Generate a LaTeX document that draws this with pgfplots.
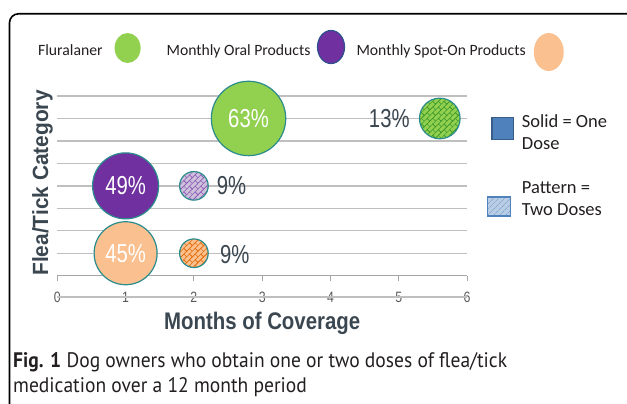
\documentclass[border=0pt]{standalone}
\usepackage{fontspec}
\setmainfont{Carlito}
\newfontfamily\numfont[FakeStretch=0.78]{Liberation Sans}
\newfontfamily\tickfont[FakeStretch=0.82]{Liberation Sans}
\newfontfamily\xlabfont[FakeStretch=0.85]{Liberation Sans}
\newfontfamily\ylabfont[FakeStretch=0.95]{Liberation Sans}
\newfontfamily\capfont[FakeStretch=0.93]{PT Sans}
\usepackage{pgfplots}
\pgfplotsset{compat=1.18}
\usetikzlibrary{patterns,patterns.meta}

\definecolor{fluGreen}{HTML}{92D050}
\definecolor{fluGreenDark}{HTML}{3F9A2A}
\definecolor{oralPurple}{HTML}{7030A0}
\definecolor{lavender}{HTML}{CCC0DA}
\definecolor{lavPat}{HTML}{8E5CB8}
\definecolor{peach}{HTML}{FAC090}
\definecolor{peachPat}{HTML}{E46C0A}
\definecolor{edgeTeal}{HTML}{2A8C8C}
\definecolor{legEdge}{HTML}{2F4F8F}
\definecolor{oneBlue}{HTML}{4F81BD}
\definecolor{oneBlueDark}{HTML}{385D8A}
\definecolor{twoBlue}{HTML}{B9CDE5}
\definecolor{twoBluePat}{HTML}{6F96C8}
\definecolor{gridgray}{HTML}{BFBFBF}
\definecolor{axisgray}{HTML}{A6A6A6}
\definecolor{tickgray}{HTML}{595959}
\definecolor{titlecol}{HTML}{3A4650}
\definecolor{numcol}{HTML}{3A4650}
\definecolor{capcol}{HTML}{231F20}

\pgfdeclarepattern{
  name=diagbricks,
  type=uncolored,
  bottom left={\pgfpoint{-0.5pt}{-0.5pt}},
  top right={\pgfpoint{8.5pt}{8.5pt}},
  tile size={\pgfpoint{8pt}{8pt}},
  tile transformation={\pgftransformrotate{45}},
  code={
    \pgfsetlinewidth{0.5pt}
    \pgfpathmoveto{\pgfpoint{-0.5pt}{0pt}}\pgfpathlineto{\pgfpoint{8.5pt}{0pt}}
    \pgfpathmoveto{\pgfpoint{-0.5pt}{4pt}}\pgfpathlineto{\pgfpoint{8.5pt}{4pt}}
    \pgfpathmoveto{\pgfpoint{-0.5pt}{8pt}}\pgfpathlineto{\pgfpoint{8.5pt}{8pt}}
    \pgfpathmoveto{\pgfpoint{0pt}{0pt}}\pgfpathlineto{\pgfpoint{0pt}{4pt}}
    \pgfpathmoveto{\pgfpoint{8pt}{0pt}}\pgfpathlineto{\pgfpoint{8pt}{4pt}}
    \pgfpathmoveto{\pgfpoint{4pt}{4pt}}\pgfpathlineto{\pgfpoint{4pt}{8pt}}
    \pgfusepath{stroke}
  }
}

% patterned bubble marks: #1 name, #2 fill, #3 pattern colour
\newcommand\patmark[3]{%
  \pgfdeclareplotmark{#1}{%
    \pgfscope
      \pgfpathcircle{\pgfpointorigin}{\pgfplotmarksize}%
      \pgfsetfillcolor{#2}\pgfusepathqfill
    \endpgfscope
    \pgfscope
      \pgfsetfillpattern{diagbricks}{#3}%
      \pgfpathcircle{\pgfpointorigin}{\pgfplotmarksize}%
      \pgfusepathqfill
    \endpgfscope
    \pgfscope
      \pgfsetstrokecolor{edgeTeal}\pgfsetlinewidth{1.2pt}%
      \pgfpathcircle{\pgfpointorigin}{\pgfplotmarksize}%
      \pgfusepathqstroke
    \endpgfscope}}
\patmark{patGreen}{fluGreen}{fluGreenDark}
\patmark{patPurple}{lavender}{lavPat}
\patmark{patOrange}{peach}{peachPat}

\begin{document}
\begin{tikzpicture}
\useasboundingbox (0pt,0pt) rectangle (627pt,-404pt);
\draw[line width=1.6pt, rounded corners=9pt] (9.5pt,-410pt) -- (9.5pt,-13.8pt) -- (640pt,-13.8pt);

\begin{axis}[
  at={(57.3pt,-275.7pt)}, anchor=south west,
  scale only axis, width=409.8pt, height=179.7pt,
  xmin=0, xmax=6, ymin=0, ymax=8,
  clip=false,
  axis x line=bottom, axis y line=left,
  axis line style={-},
  x axis line style={draw=axisgray, line width=1.3pt},
  y axis line style={draw=none},
  xtick={0,1,2,3,4,5,6}, ytick={0,1,...,8}, yticklabels={},
  ytick style={draw=none},
  xtick style={draw=axisgray, line width=1pt},
  tick align=outside, major tick length=5pt,
  ymajorgrids, major grid style={draw=gridgray, line width=1.3pt},
  /pgf/number format/assume math mode=true,
  xticklabel style={font=\tickfont\fontsize{15}{15}\selectfont, text=tickgray, yshift=-8pt},
  xlabel={Months of Coverage},
  ylabel={Flea/Tick Category},
  xlabel style={font=\xlabfont\bfseries\fontsize{24}{24}\selectfont, text=titlecol,
    at={(axis description cs:0.5,-0.302)}, anchor=base},
  ylabel style={font=\ylabfont\bfseries\fontsize{22}{22}\selectfont, text=titlecol,
    at={(axis description cs:-0.036,0.516)}, anchor=center},
  legend columns=3,
  legend plot pos=right,
  legend style={draw=none, fill=none, inner sep=0pt, column sep=0pt,
    at={(axis description cs:-0.0471,1.2504)}, anchor=west,
    font=\fontsize{15.7}{16}\selectfont, text=capcol,
    nodes={inner sep=0pt}},
]
% decorative line under the tick labels
\draw[gridgray, line width=1.3pt] (rel axis cs:0,0) ++(0pt,-21.3pt) -- ++(409.8pt,0pt);

% one-dose bubbles
\addplot[forget plot, only marks, mark=*, mark size=37.2pt,
  mark options={fill=fluGreen, draw=edgeTeal, line width=1.2pt},
  nodes near coords, point meta=explicit symbolic,
  nodes near coords style={font=\numfont\fontsize{26}{26}\selectfont, text=white, anchor=center, inner sep=0pt}]
  coordinates {(2.8,7) [63\%]};
\addplot[forget plot, only marks, mark=*, mark size=33pt,
  mark options={fill=oralPurple, draw=edgeTeal, line width=1.2pt},
  nodes near coords, point meta=explicit symbolic,
  nodes near coords style={font=\numfont\fontsize{26}{26}\selectfont, text=white, anchor=center, inner sep=0pt}]
  coordinates {(1,4) [49\%]};
\addplot[forget plot, only marks, mark=*, mark size=31.5pt,
  mark options={fill=peach, draw=edgeTeal, line width=1.2pt},
  nodes near coords, point meta=explicit symbolic,
  nodes near coords style={font=\numfont\fontsize{26}{26}\selectfont, text=white, anchor=center, inner sep=0pt}]
  coordinates {(1,1) [45\%]};
% two-dose bubbles
\addplot[forget plot, only marks, mark=patGreen, mark size=20.3pt,
  nodes near coords, point meta=explicit symbolic,
  nodes near coords style={font=\numfont\fontsize{26}{26}\selectfont, text=numcol, anchor=east, inner sep=0pt, xshift=-30pt}]
  coordinates {(5.6,7) [13\%]};
\addplot[forget plot, only marks, mark=patPurple, mark size=14.3pt,
  nodes near coords, point meta=explicit symbolic,
  nodes near coords style={font=\numfont\fontsize{26}{26}\selectfont, text=numcol, anchor=west, inner sep=0pt, xshift=22.7pt}]
  coordinates {(2,4) [9\%]};
\addplot[forget plot, only marks, mark=patOrange, mark size=14.3pt,
  nodes near coords, point meta=explicit symbolic,
  nodes near coords style={font=\numfont\fontsize{26}{26}\selectfont, text=numcol, anchor=west, inner sep=0pt, xshift=26pt, yshift=-1.5pt}]
  coordinates {(2,1) [9\%]};

% top legend
\addlegendimage{legend image code/.code={\path[draw=none, fill=none] (0pt,0pt) -- (64pt,0pt);
  \path[overlay, draw=none, fill=fluGreen] (25pt,3pt) ellipse[x radius=13pt, y radius=15pt];}}
\addlegendentry{Fluralaner}
\addlegendimage{legend image code/.code={\path[draw=none, fill=none] (0pt,0pt) -- (46pt,0pt);
  \path[overlay, fill=oralPurple, draw=legEdge, line width=1.2pt] (20.5pt,4pt) ellipse[x radius=13.5pt, y radius=16.5pt];}}
\addlegendentry{Monthly Oral Products}
\addlegendimage{legend image code/.code={\path[draw=none, fill=none] (0pt,0pt) -- (38pt,0pt);
  \path[overlay, draw=none, fill=peach] (23pt,-1pt) ellipse[x radius=15pt, y radius=19pt];}}
\addlegendentry{Monthly Spot-On Products}
\end{axis}

% right legend (solid / pattern)
\begin{axis}[
  at={(57.3pt,-275.7pt)}, anchor=south west,
  scale only axis, width=409.8pt, height=179.7pt,
  hide axis, xmin=0, xmax=1, ymin=0, ymax=1,
  legend cell align=left,
  legend style={draw=none, fill=none, inner sep=0pt, row sep=0pt, column sep=0pt,
    at={(axis description cs:1.0486,0.9126)}, anchor=north west,
    font=\fontsize{18.5}{22}\selectfont, text=capcol,
    nodes={inner sep=0pt, text height=15.5pt, text depth=6.5pt}},
]
\addlegendimage{legend image code/.code={\path[draw=none, fill=none] (0pt,0pt) -- (34.7pt,0pt);
  \filldraw[overlay, fill=oneBlue, draw=oneBlueDark, line width=1.3pt] (4.7pt,-16.5pt) rectangle (26pt,5.5pt);}}
\addlegendentry{Solid = One}
\addlegendimage{legend image code/.code={\path[draw=none, fill=none] (0pt,0pt) -- (34.7pt,0pt);}}
\addlegendentry{Dose}
\addlegendimage{legend image code/.code={\path[draw=none, fill=none] (0pt,0pt) -- (34.7pt,0pt);}}
\addlegendentry{\mbox{}}
\addlegendimage{legend image code/.code={\path[draw=none, fill=none] (0pt,0pt) -- (34.7pt,0pt);}}
\addlegendentry{Pattern =}
\addlegendimage{legend image code/.code={\path[draw=none, fill=none] (0pt,0pt) -- (34.7pt,0pt);
  \path[overlay, draw=none, fill=twoBlue] (0.5pt,-5pt) rectangle (23pt,14pt);
  \path[overlay, draw=none, pattern={Lines[angle=45,distance=4pt,line width=0.5pt]}, pattern color=twoBluePat] (0.5pt,-5pt) rectangle (23pt,14pt);
  \draw[overlay, draw=oneBlue, fill=none, line width=1.2pt] (0.5pt,-5pt) rectangle (23pt,14pt);}}
\addlegendentry{Two Doses}
\end{axis}

% caption
\node[anchor=base west, inner sep=0pt, font=\capfont\fontsize{21}{26}\selectfont, text=capcol]
  at (13pt,-367pt) {\textbf{Fig. 1} Dog owners who obtain one or two doses of flea/tick};
\node[anchor=base west, inner sep=0pt, font=\capfont\fontsize{21}{26}\selectfont, text=capcol]
  at (13pt,-392pt) {medication over a 12 month period};
\end{tikzpicture}
\end{document}
